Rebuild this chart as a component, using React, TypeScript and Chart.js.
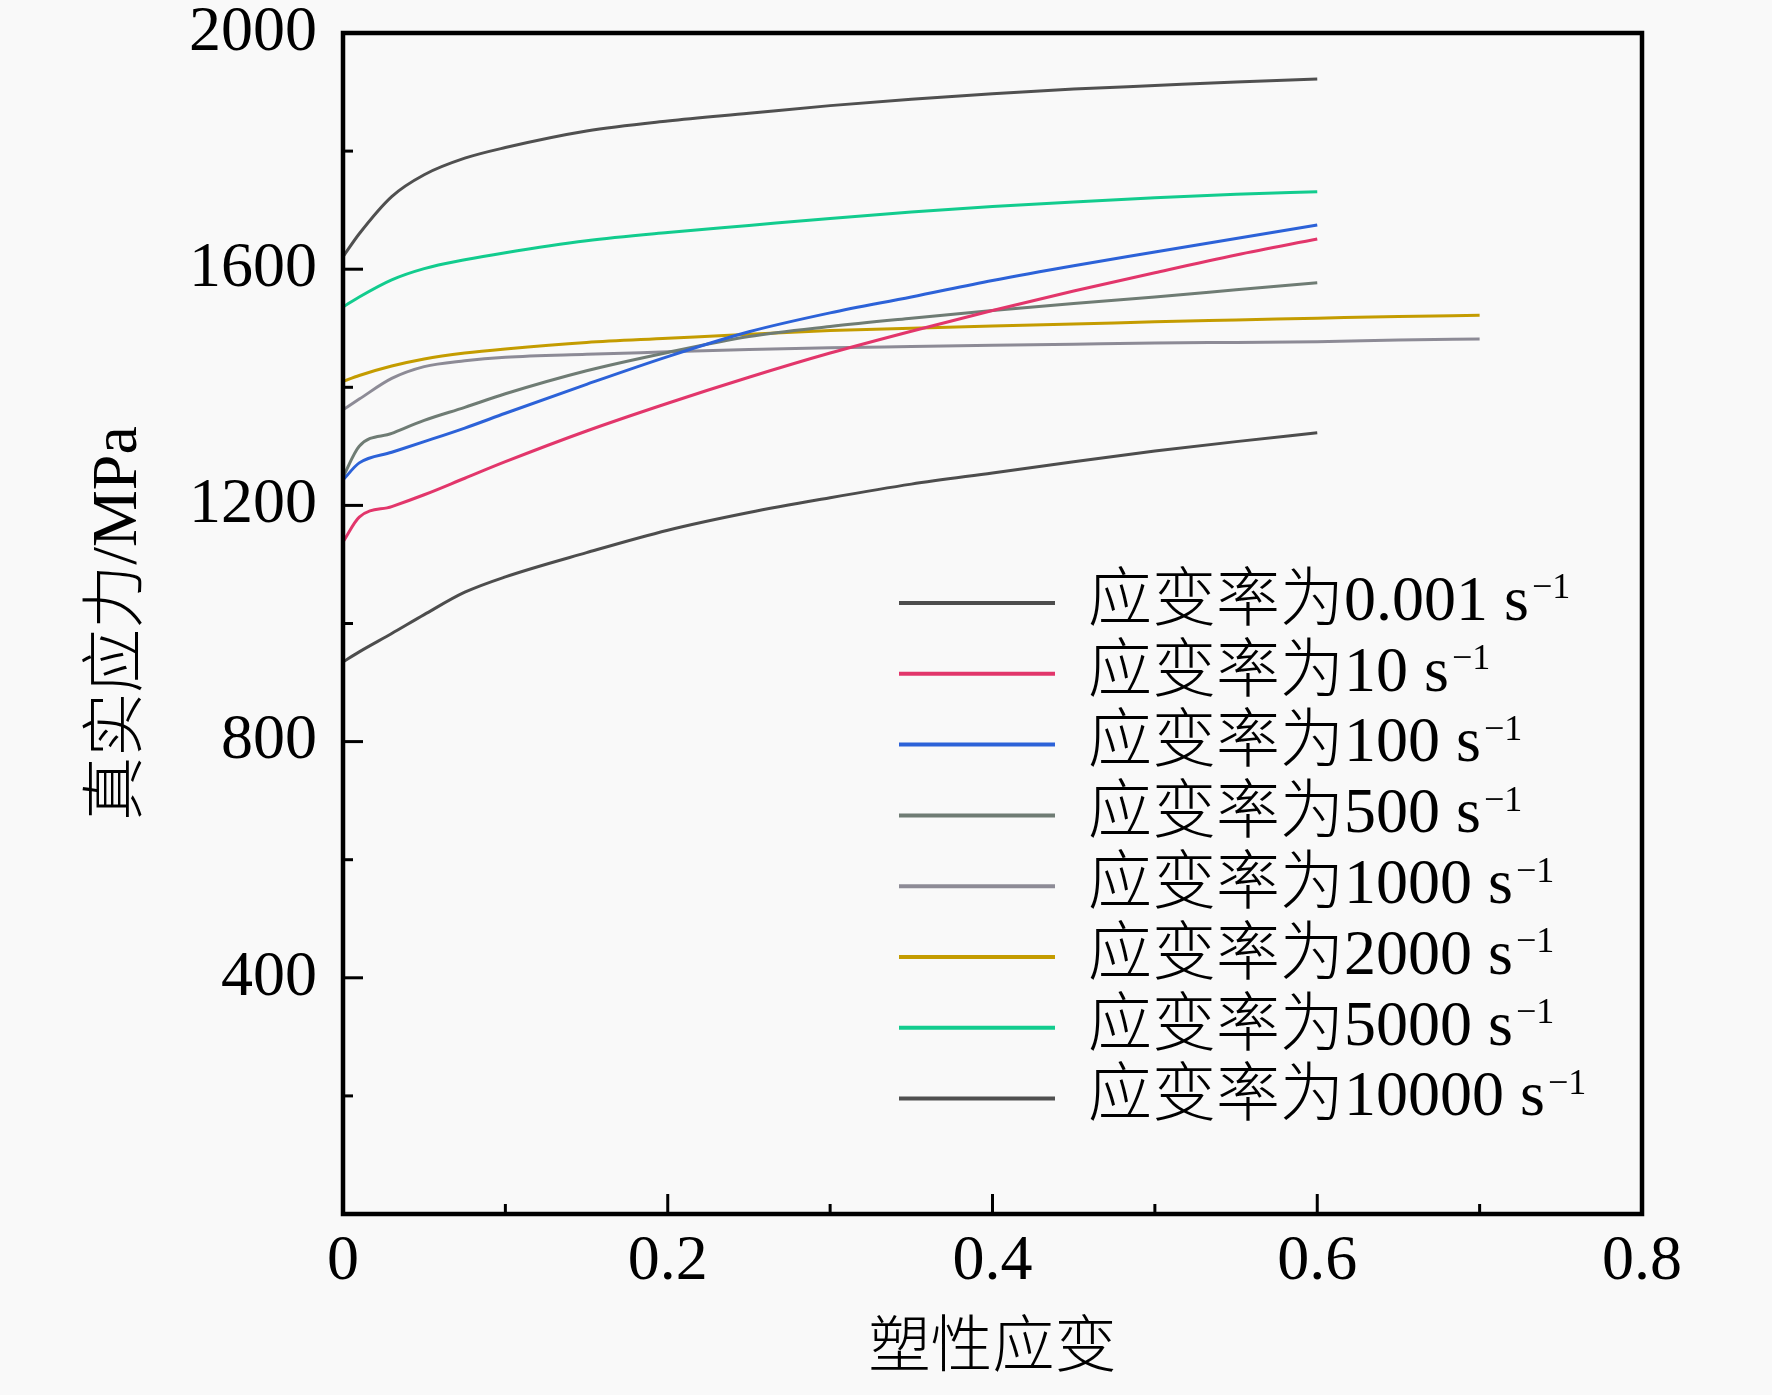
import React, { useEffect, useRef } from 'react';
import { Chart, registerables } from 'chart.js';

Chart.register(...registerables);

// strain rates (s^-1) and their line colours
const rates = ['0.001', '10', '100', '500', '1000', '2000', '5000', '10000'];
const colors = ['#4d4d4d', '#e2366b', '#2c62d8', '#6f7c74', '#8d8b96', '#c49c00', '#12cc8e', '#505050'];

// plastic strain sample points
const strain = [0, 0.01, 0.03, 0.05, 0.075, 0.1, 0.15, 0.2, 0.25, 0.3, 0.35, 0.4, 0.45, 0.5, 0.55, 0.6];
const strainLong = [0, 0.01, 0.03, 0.05, 0.075, 0.1, 0.15, 0.2, 0.25, 0.3, 0.35, 0.4, 0.45, 0.5, 0.55, 0.6, 0.65, 0.7];

// true stress (MPa)
const stress0001 = [935, 952, 983, 1015, 1053, 1079, 1120, 1158, 1188, 1213, 1236, 1255, 1274, 1292, 1308, 1323];
const stress10 = [1138, 1180, 1198, 1218, 1246, 1274, 1326, 1373, 1417, 1458, 1495, 1530, 1563, 1594, 1624, 1651];
const stress100 = [1243, 1272, 1290, 1308, 1331, 1356, 1405, 1452, 1494, 1526, 1553, 1581, 1606, 1629, 1652, 1675];
const stress500 = [1248, 1300, 1322, 1344, 1366, 1389, 1428, 1459, 1486, 1503, 1517, 1530, 1542, 1553, 1565, 1577];
const stress1000 = [1362, 1380, 1415, 1435, 1445, 1451, 1456, 1460, 1464, 1467, 1469, 1471, 1473, 1475, 1476, 1477, 1480, 1482];
const stress2000 = [1410, 1420, 1436, 1448, 1458, 1465, 1476, 1483, 1490, 1496, 1500, 1504, 1507, 1511, 1514, 1517, 1520, 1522];
const stress5000 = [1536, 1553, 1582, 1601, 1616, 1628, 1648, 1662, 1674, 1686, 1697, 1706, 1714, 1721, 1727, 1731];
const stress10000 = [1621, 1660, 1723, 1760, 1788, 1806, 1834, 1851, 1864, 1877, 1888, 1897, 1905, 1911, 1917, 1922];

const yTickLabels = [400, 800, 1200, 1600, 2000];
const xTickLabels = [0, 0.2, 0.4, 0.6, 0.8];

const SERIF = '"Liberation Serif", "Times New Roman", "Noto Sans CJK SC", serif';

const pair = (xs: number[], ys: number[]) => ys.map((y, i) => ({ x: xs[i], y }));

// inward ticks + closed frame
const frameTicks = {
  id: 'frameTicks',
  afterDraw(chart: any) {
    const { ctx, chartArea: a, scales } = chart;
    ctx.save();
    ctx.strokeStyle = '#000';
    ctx.lineWidth = 3;
    scales.x.ticks.forEach((t: any) => {
      const px = scales.x.getPixelForValue(t.value);
      const len = t.label ? 20 : 10;
      ctx.beginPath();
      ctx.moveTo(px, a.bottom);
      ctx.lineTo(px, a.bottom - len);
      ctx.stroke();
    });
    scales.y.ticks.forEach((t: any) => {
      const py = scales.y.getPixelForValue(t.value);
      const len = t.label || t.value === 0 ? 20 : 10;
      ctx.beginPath();
      ctx.moveTo(a.left, py);
      ctx.lineTo(a.left + len, py);
      ctx.stroke();
    });
    ctx.lineWidth = 4.5;
    ctx.strokeRect(a.left, a.top, a.right - a.left, a.bottom - a.top);
    ctx.restore();
  },
};

// legend inside the plot, with superscript units
const insideLegend = {
  id: 'insideLegend',
  afterDraw(chart: any) {
    const { ctx, chartArea: a } = chart;
    const x0 = a.left + 556;
    const y0 = a.top + 570;
    const step = 70.8;
    ctx.save();
    chart.data.datasets.forEach((ds: any, i: number) => {
      const y = y0 + i * step;
      ctx.strokeStyle = ds.borderColor;
      ctx.lineWidth = 4;
      ctx.beginPath();
      ctx.moveTo(x0, y);
      ctx.lineTo(x0 + 156, y);
      ctx.stroke();
      const main = `应变率为${rates[i]} s`;
      ctx.fillStyle = '#000';
      ctx.textAlign = 'left';
      ctx.textBaseline = 'middle';
      ctx.font = `300 64px ${SERIF}`;
      ctx.fillText(main, x0 + 189, y);
      const w = ctx.measureText(main).width;
      ctx.font = `36px ${SERIF}`;
      ctx.fillText('\u22121', x0 + 189 + w + 3, y - 14);
    });
    ctx.restore();
  },
};

const App = () => {
  const chartRef = useRef<HTMLCanvasElement>(null);

  useEffect(() => {
    document.body.style.margin = '0';
    document.body.style.background = '#f9f9f9';
    const canvas = chartRef.current;
    if (!canvas) return;

    const series = [stress0001, stress10, stress100, stress500, stress1000, stress2000, stress5000, stress10000];
    const datasets = series.map((s, i) => ({
      label: `应变率为${rates[i]} s\u207B\u00B9`,
      data: pair(s.length > strain.length ? strainLong : strain, s),
      borderColor: colors[i],
      backgroundColor: colors[i],
      borderWidth: 3,
      pointRadius: 0,
      cubicInterpolationMode: 'monotone' as const,
      fill: false,
    }));

    const chart = new Chart(canvas, {
      type: 'line',
      data: { datasets },
      options: {
        responsive: false,
        animation: false,
        devicePixelRatio: 1,
        layout: { padding: { top: 33, right: 130, left: 0, bottom: 0 } },
        plugins: { legend: { display: false }, tooltip: { enabled: false } },
        scales: {
          x: {
            type: 'linear',
            min: 0,
            max: 0.8,
            border: { display: false },
            grid: { display: false, drawTicks: false },
            ticks: {
              stepSize: 0.1,
              autoSkip: false,
              maxRotation: 0,
              padding: 16,
              color: '#000',
              font: { family: SERIF, size: 64, lineHeight: 1 },
              callback: (v: any) => {
                const k = Math.round(Number(v) * 10) / 10;
                return xTickLabels.includes(k) ? String(k) : '';
              },
            },
            title: {
              display: true,
              text: '塑性应变',
              color: '#000',
              font: { family: SERIF, size: 62, weight: '300' },
              padding: { top: 0, bottom: 7 },
            },
            afterFit: (scale: any) => {
              scale.height = 181;
              scale.paddingLeft = 0;
              scale.paddingRight = 0;
            },
          },
          y: {
            min: 0,
            max: 2000,
            border: { display: false },
            grid: { display: false, drawTicks: false },
            ticks: {
              stepSize: 200,
              autoSkip: false,
              padding: 26,
              color: '#000',
              font: { family: SERIF, size: 64, lineHeight: 1 },
              callback: (v: any) => (yTickLabels.includes(Number(v)) ? String(v) : ''),
            },
            title: {
              display: true,
              text: '真实应力/MPa',
              color: '#000',
              font: { family: SERIF, size: 64, weight: '300' },
              padding: { top: 81, bottom: 0 },
            },
            afterFit: (scale: any) => {
              scale.width = 343;
              scale.paddingTop = 0;
              scale.paddingBottom = 0;
            },
          },
        },
      },
      plugins: [frameTicks, insideLegend],
    });

    return () => {
      chart.destroy();
    };
  }, []);

  return (
    <div style={{ width: 1772, height: 1395, background: '#f9f9f9' }}>
      <canvas ref={chartRef} width={1772} height={1395} style={{ display: 'block' }}></canvas>
    </div>
  );
};

export default App;
